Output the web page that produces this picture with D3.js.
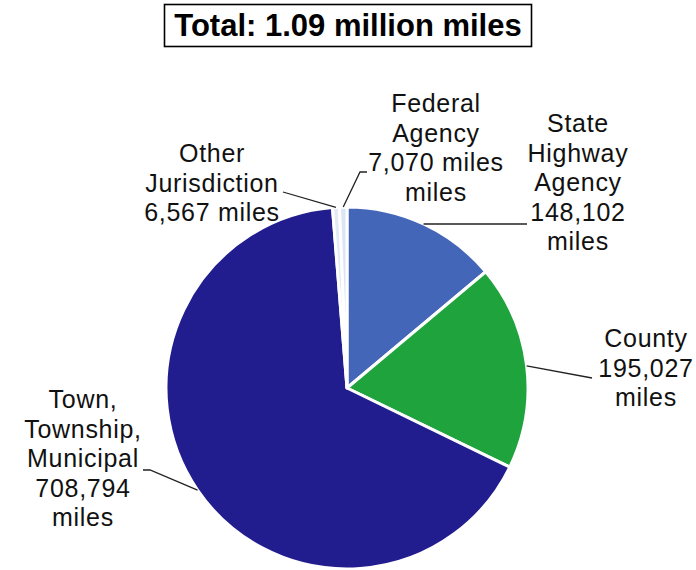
<!DOCTYPE html>
<html>
<head>
<meta charset="utf-8">
<script src="https://cdn.jsdelivr.net/npm/d3@7"></script>
<style>
  html, body { margin: 0; padding: 0; background: #ffffff; }
  svg { display: block; }
</style>
</head>
<body>
<svg id="chart" width="696" height="570"></svg>
<script>
// Public road mileage by ownership (clockwise from 12 o'clock)
const categories = ["State Highway Agency", "County", "Town, Township, Municipal", "Other Jurisdiction", "Federal Agency"];
const miles = [148102, 195027, 708794, 6567, 7070];
const colors = ["#4466b8", "#1fa33d", "#221d8e", "#e3eaf6", "#dbe5f4"];
const titleText = "Total: 1.09 million miles";

// Label text lines; "{v}" is replaced with the formatted mileage
const labelLines = [
  ["State", "Highway", "Agency", "{v}", "miles"],
  ["County", "{v}", "miles"],
  ["Town,", "Township,", "Municipal", "{v}", "miles"],
  ["Other", "Jurisdiction", "{v} miles"],
  ["Federal", "Agency", "{v} miles", "miles"]
];

const svg = d3.select("#chart");
const width = 696, height = 570;
const cx = 347, cy = 388, radius = 181;
const fmt = d3.format(",");

// Title with frame
const title = svg.append("g");
title.append("rect")
  .attr("x", 164.5).attr("y", 4.5)
  .attr("width", 367).attr("height", 42)
  .attr("fill", "#ffffff")
  .attr("stroke", "#000000")
  .attr("stroke-width", 1.6);
title.append("text")
  .attr("x", 348).attr("y", 36)
  .attr("text-anchor", "middle")
  .attr("font-family", "Liberation Sans, Arial, sans-serif")
  .attr("font-weight", "bold")
  .attr("font-size", 31)
  .attr("fill", "#000000")
  .text(titleText);

const data = categories.map((c, i) => ({ name: c, value: miles[i], color: colors[i], lines: labelLines[i] }));

const pie = d3.pie().value(d => d.value).sort(null).startAngle(0).endAngle(2 * Math.PI);
const arcs = pie(data);
const arc = d3.arc().innerRadius(0).outerRadius(radius);

const g = svg.append("g").attr("transform", `translate(${cx},${cy})`);
g.selectAll("path.slice")
  .data(arcs)
  .join("path")
  .attr("class", "slice")
  .attr("d", arc)
  .attr("fill", d => d.data.color)
  .attr("stroke", "#ffffff")
  .attr("stroke-width", 3)
  .attr("stroke-linejoin", "round");

// Label placement: text centre x, first baseline, and the leader's bend point
const labelLayout = {
  "State Highway Agency":      { x: 578, y: 132, bend: [527, null], tail: null },
  "County":                    { x: 646, y: 347, bend: [592, 378], tail: null },
  "Town, Township, Municipal": { x: 83,  y: 408, bend: [150, 470], tail: [143, 470] },
  "Other Jurisdiction":        { x: 212, y: 162, bend: [283, 192], tail: null },
  "Federal Agency":            { x: 436, y: 112, bend: [360, 172], tail: [367, 172] }
};
const lineHeight = 29.5;

const labels = svg.append("g")
  .attr("font-family", "Liberation Sans, Arial, sans-serif")
  .attr("font-size", 25)
  .attr("letter-spacing", 0.7)
  .attr("fill", "#111111");

arcs.forEach(a => {
  const L = labelLayout[a.data.name];
  const mid = (a.startAngle + a.endAngle) / 2;
  const px = cx + radius * Math.sin(mid);
  const py = cy - radius * Math.cos(mid);
  const bend = [L.bend[0], L.bend[1] == null ? py : L.bend[1]];
  const pts = [[px, py], bend];
  if (L.tail) pts.push(L.tail);
  svg.append("path")
    .attr("d", d3.line()(pts))
    .attr("fill", "none")
    .attr("stroke", "#222222")
    .attr("stroke-width", 1.3);

  const t = labels.append("text").attr("text-anchor", "middle");
  a.data.lines.forEach((ln, i) => {
    t.append("tspan")
      .attr("x", L.x)
      .attr("y", L.y + i * lineHeight)
      .text(ln.replace("{v}", fmt(a.data.value)));
  });
});
</script>
</body>
</html>
